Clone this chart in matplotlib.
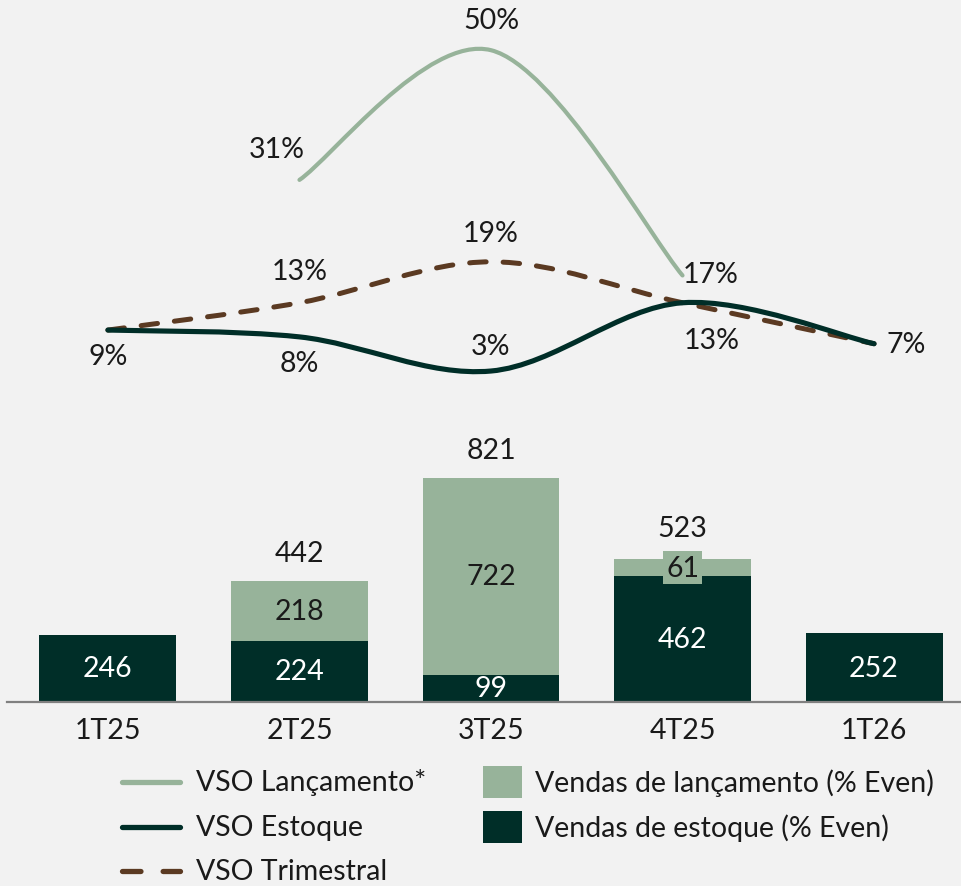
import numpy as np
import matplotlib
matplotlib.use("Agg")
import matplotlib.pyplot as plt
from matplotlib.path import Path
from matplotlib.patches import PathPatch, Rectangle
from matplotlib.lines import Line2D

# data
categories = ["1T25", "2T25", "3T25", "4T25", "1T26"]
vendas_estoque = [246, 224, 99, 462, 252]
vendas_lancamento = [0, 218, 722, 61, 0]
vso_lancamento = [np.nan, 31, 50, 17, np.nan]
vso_estoque = [9, 8, 3, 13, 7]
vso_trimestral = [9, 13, 19, 13, 7]

BG = "#f2f2f2"
LIGHT = "#97b39a"
DARK = "#002e28"
BROWN = "#5b3a22"
TXT = "#1a1a1a"
FS = 20.5
plt.rcParams["font.family"] = ["Lato", "DejaVu Sans"]
plt.rcParams["font.weight"] = "normal"

W, H = 961, 887


def fig_rect(x0, y0, x1, y1):
    # pixel box (top-left origin) -> figure fraction
    return [x0 / W, (H - y1) / H, (x1 - x0) / W, (y1 - y0) / H]


def smooth_path(xs, ys):
    """Excel-like smoothed line through the points as cubic Bezier segments."""
    pts = np.column_stack([xs, ys]).astype(float)
    n = len(pts)
    verts, codes = [pts[0]], [Path.MOVETO]
    for i in range(n - 1):
        p0, p1 = pts[max(i - 1, 0)], pts[i]
        p2, p3 = pts[i + 1], pts[min(i + 2, n - 1)]
        verts += [p1 + (p2 - p0) / 6, p2 - (p3 - p1) / 6, p2]
        codes += [Path.CURVE4] * 3
    return Path(verts, codes)


fig = plt.figure(figsize=(W / 100, H / 100), dpi=100, facecolor=BG)
ax_bar = fig.add_axes(fig_rect(7, 420, 961, 703))
ax_line = fig.add_axes(fig_rect(7, 0, 961, 392.5))
x = np.arange(len(categories))
XLIM = (-0.527, 4.454)

# ---- bars
ax_bar.set_facecolor(BG)
ax_bar.bar(x, vendas_estoque, width=0.715, color=DARK)
ax_bar.bar(x, vendas_lancamento, bottom=vendas_estoque, width=0.715, color=LIGHT)
for i, (e, l) in enumerate(zip(vendas_estoque, vendas_lancamento)):
    ax_bar.text(i, e / 2, str(e), ha="center", va="center", color="white", fontsize=FS)
    if l > 0:
        box = dict(boxstyle="square,pad=0.12", fc=LIGHT, ec="none") if l < 100 else None
        ax_bar.text(i, e + l / 2, str(l), ha="center", va="center", color=TXT,
                    fontsize=FS, bbox=box)
        ax_bar.annotate(str(e + l), (i, e + l), xytext=(0, 11 if l > 100 else 13),
                        textcoords="offset points", ha="center", va="bottom",
                        color=TXT, fontsize=FS)
ax_bar.set_xlim(*XLIM)
ax_bar.set_ylim(0, 1037)
for s in ["top", "left", "right"]:
    ax_bar.spines[s].set_visible(False)
ax_bar.spines["bottom"].set_color("#808080")
ax_bar.spines["bottom"].set_linewidth(1.6)
ax_bar.set_yticks([])
ax_bar.set_xticks(x, categories)
ax_bar.tick_params(axis="x", length=0, pad=11, labelsize=FS, labelcolor=TXT)

# ---- lines
ax_line.set_facecolor("none")
ax_line.set_xlim(*XLIM)
ax_line.set_ylim(0, 57.5)
ax_line.axis("off")

ok = ~np.isnan(np.array(vso_lancamento, dtype=float))
ax_line.add_patch(PathPatch(smooth_path(x[ok], np.array(vso_lancamento)[ok]), fc="none",
                            ec=LIGHT, lw=3.0, capstyle="round"))
ax_line.add_patch(PathPatch(smooth_path(x, vso_trimestral), fc="none", ec=BROWN, lw=3.6,
                            ls=(0, (3.3, 3.4)), capstyle="round"))
ax_line.add_patch(PathPatch(smooth_path(x, vso_estoque), fc="none", ec=DARK, lw=3.7,
                            capstyle="round"))

# (series, index, dx pt, dy pt)
label_spots = [
    (vso_lancamento, 1, -16, 22), (vso_lancamento, 2, 0, 22), (vso_lancamento, 3, 20, 1),
    (vso_trimestral, 1, 0, 23), (vso_trimestral, 2, 0, 21), (vso_trimestral, 3, 21, -27),
    (vso_trimestral, 4, 23, 0),
    (vso_estoque, 0, 0, -19), (vso_estoque, 1, 0, -19), (vso_estoque, 2, 0, 18),
]
for ser, i, dx, dy in label_spots:
    ax_line.annotate(f"{ser[i]:.0f}%", (i, ser[i]), xytext=(dx, dy), textcoords="offset points",
                     ha="center", va="center", color=TXT, fontsize=FS, annotation_clip=False)

# ---- legend (drawn by hand to get mixed handle shapes)
tr = fig.transFigure


def px(xp, yp):
    return xp / W, (H - yp) / H


legend_lines = [("VSO Lançamento*", LIGHT, "-", 783), ("VSO Estoque", DARK, "-", 828),
                ("VSO Trimestral", BROWN, (0, (3.5, 4.2)), 872)]
for lab, col, ls, yp in legend_lines:
    (xa, ya), (xb, _) = px(122, yp), px(180, yp)
    fig.add_artist(Line2D([xa, xb], [ya, ya], transform=tr, color=col, lw=3.8,
                          ls=ls, solid_capstyle="round", dash_capstyle="round"))
    fig.text(*px(196, yp), lab, transform=tr, ha="left", va="center", color=TXT, fontsize=FS)

legend_boxes = [("Vendas de lançamento (% Even)", LIGHT, 783),
                ("Vendas de estoque (% Even)", DARK, 828)]
for lab, col, yp in legend_boxes:
    x0, y0 = px(483, yp + 16)
    fig.add_artist(Rectangle((x0, y0), 39 / W, 32 / H, transform=tr, fc=col, ec="none"))
    fig.text(*px(535, yp), lab, transform=tr, ha="left", va="center", color=TXT, fontsize=FS)

fig.savefig("out.png", dpi=100, facecolor=BG)
